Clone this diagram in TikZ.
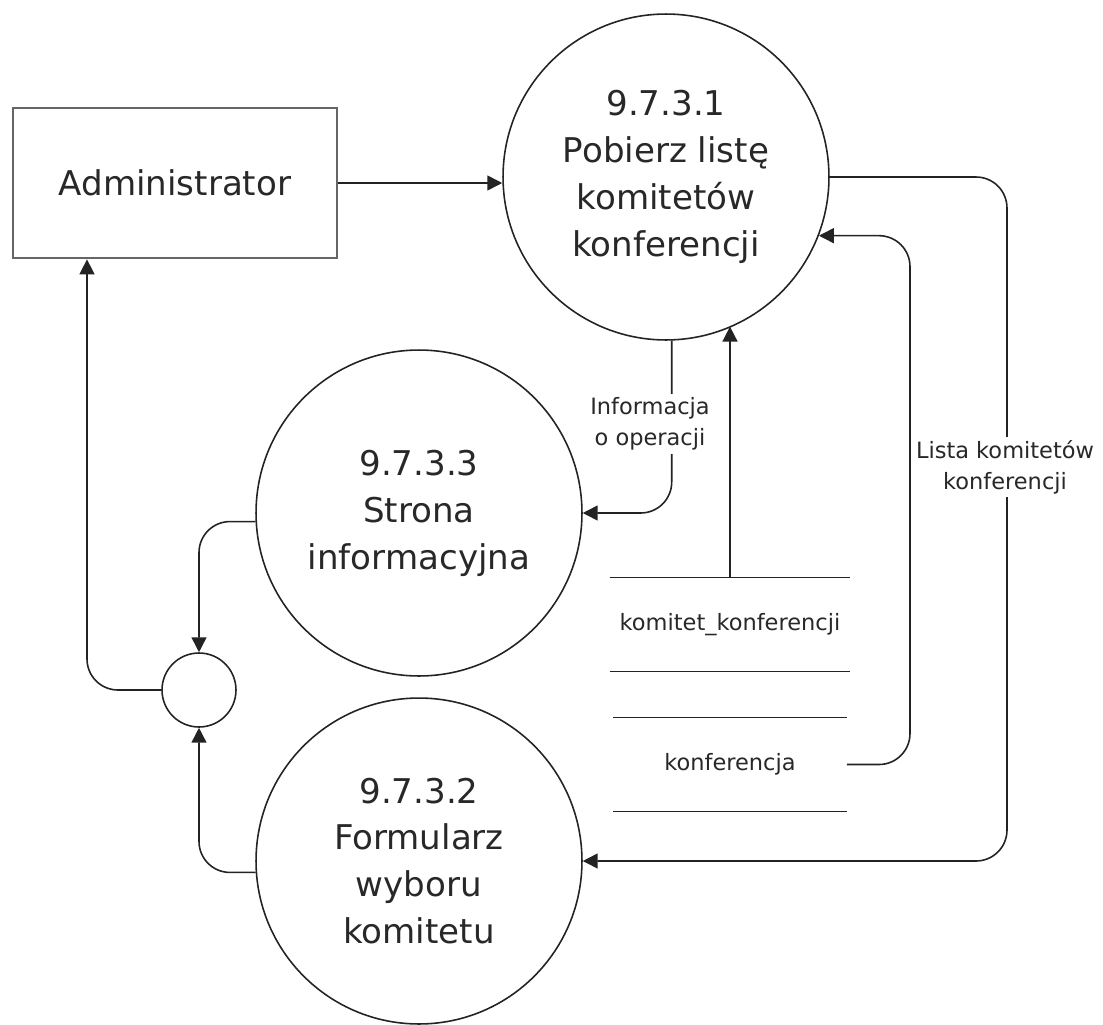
\documentclass[tikz,border=0pt]{standalone}
\usepackage{fontspec}
\setmainfont{DejaVu Sans}
\usetikzlibrary{arrows.meta}
\definecolor{ln}{RGB}{35,35,35}
\definecolor{tx}{RGB}{40,40,40}

\begin{document}
\begin{tikzpicture}[x=0.02cm,y=-0.02cm,
  proc/.style={circle,draw=ln,line width=0.9pt,minimum size=6.52cm,inner sep=0pt,
            font=\fontsize{19.4}{26.7}\selectfont,text=tx,align=center},
  ent/.style={draw=black!60,line width=1.6pt,minimum width=6.48cm,minimum height=3cm,
            font=\fontsize{19.4}{26.7}\selectfont,text=tx},
  jnc/.style={circle,draw=ln,line width=0.9pt,minimum size=1.48cm,inner sep=0pt},
  store/.style={minimum width=4.8cm,minimum height=1.86cm,inner sep=0pt,
            font=\fontsize{12.8}{17.6}\selectfont,text=tx},
  lbl/.style={fill=white,inner sep=2pt,font=\fontsize{12.8}{17.6}\selectfont,
            text=tx,align=center},
  arr/.style={-{Triangle[length=8.5pt,width=8.5pt]},line width=0.9pt,draw=ln,
            rounded corners=0.62cm}]
  \useasboundingbox (0,0) rectangle (1103,1025);
  \node[ent]  (adm) at (175,183) {Administrator};
  \node[proc] (p1)  at (666,177) {9.7.3.1\\Pobierz listę\\komitetów\\konferencji};
  \node[proc] (p3)  at (419,513) {9.7.3.3\\Strona\\informacyjna};
  \node[proc] (p2)  at (419,861) {9.7.3.2\\Formularz\\wyboru\\komitetu};
  \node[jnc]  (jn)  at (199,690) {};
  % magazyny danych
  \node[store] (kk) at (730,624.5) {komitet\_konferencji};
  \node[store,minimum width=4.66cm] (kf) at (730,764.5) {konferencja};
  \draw[ln,line width=0.9pt] (kk.north west) -- (kk.north east)
    (kk.south west) -- (kk.south east)
    (kf.north west) -- (kf.north east)
    (kf.south west) -- (kf.south east);
  % punkty zalaman
  \coordinate (b1) at (910,500);
  \coordinate (b2) at (1007,520);
  \coordinate (b3) at (87,400);
  % przeplywy
  \draw[arr] (adm.east) -- (adm.east -| p1.west);
  \draw[arr] (kk.north) -- (kk.north |- p1.-66.9);
  \draw[arr] (p1.-88.6) |- (p3.east);
  \draw[arr] (kf.east) -| (b1) |- (p1.-21.6);
  \draw[arr] (p1.east) -| (b2) |- (p2.east);
  \draw[arr] (p3.183.2) -| (jn.north);
  \draw[arr] (p2.184.2) -| (jn.south);
  \draw[arr] (jn.west) -| (b3 |- adm.south);
  \node[lbl] (inf) at (650,424) {Informacja\\o operacji};
  \node[lbl] (lk)  at (1005,467) {Lista komitetów\\konferencji};
\end{tikzpicture}
\end{document}
